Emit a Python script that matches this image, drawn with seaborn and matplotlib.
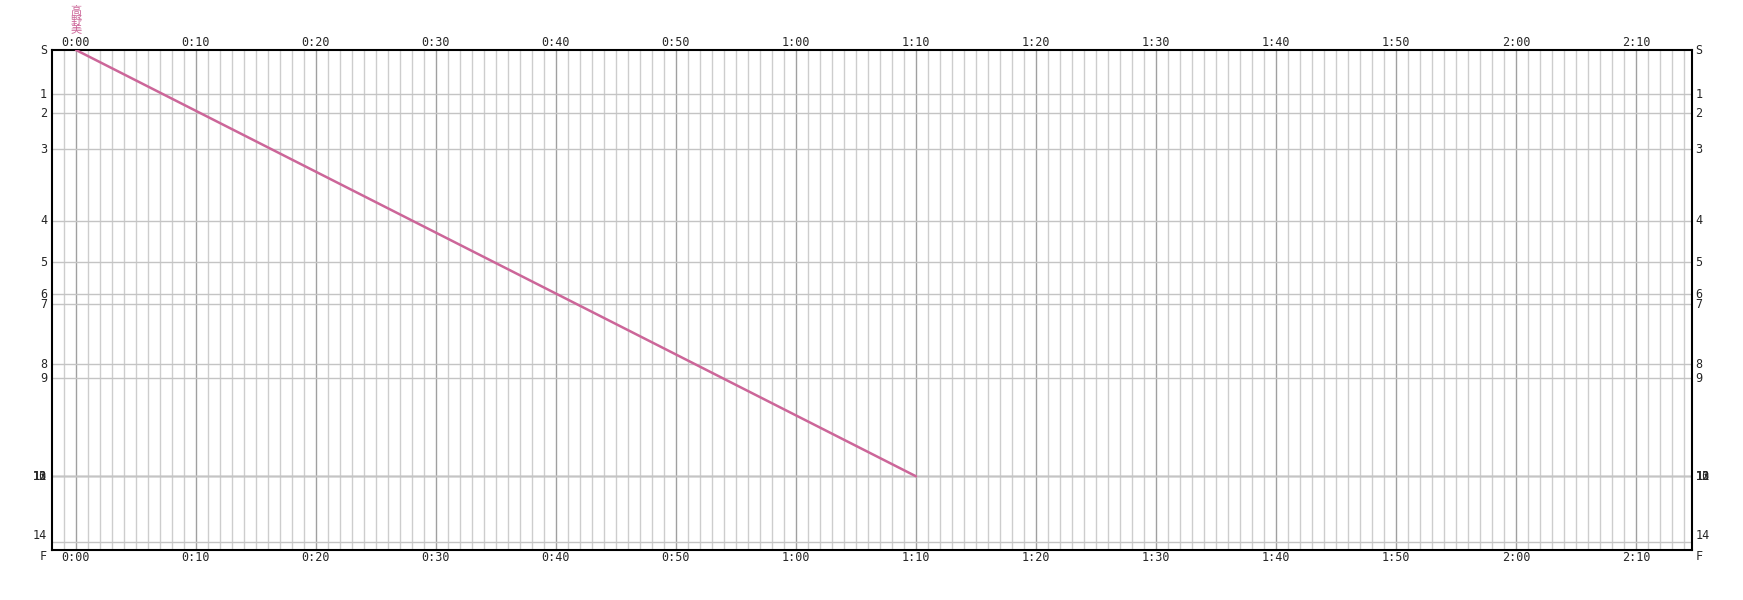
import numpy as np
import pandas as pd
import seaborn as sns
from matplotlib import pyplot as plt

# stations (top to bottom) and their distance down the chart
stations = ["S", "1", "2", "3", "4", "5", "6", "7", "8", "9", "10", "11", "12", "13", "14", "F"]
distance = [0, 4.43, 6.33, 9.93, 17.1, 21.23, 24.43, 25.4, 31.43, 32.83, 42.63, 42.63, 42.63, 42.63, 49.23, 50.0]

# one train: departs S at 0:00, reaches station 10 at 1:10
train_name = "高野美"
train_stations = ["S", "10"]
train_minutes = [0, 70]

major_ticks = list(range(0, 140, 10))
tick_labels = ["%d:%02d" % (m // 60, m % 60) for m in major_ticks]

dist_of = dict(zip(stations, distance))
df = pd.DataFrame({"minute": train_minutes,
                   "dist": [dist_of[s] for s in train_stations]})

sns.set_style("white")
plt.rcParams['font.family'] = ['Noto Sans CJK JP', 'DejaVu Sans']

fig = plt.figure(figsize=(17.43, 6), dpi=100)
ax = fig.add_axes([52 / 1743, 50 / 600, (1692 - 52) / 1743, 500 / 600])

xmin, xmax = -2, 134.67
# minor grid every minute, major every 10 minutes
for m in range(-1, 135):
    if m % 10 == 0:
        ax.axvline(m, color="#a0a0a0", lw=1, zorder=1)
    else:
        ax.axvline(m, color="#cdcdcd", lw=1, zorder=1)
for d in distance[1:-1]:
    ax.axhline(d, color="#c4c4c4", lw=1, zorder=1)

sns.lineplot(data=df, x="minute", y="dist", color="#cc6699", lw=1.8, ax=ax, zorder=3)

ax.set_xlim(xmin, xmax)
ax.set_ylim(50, 0)
ax.set_xlabel("")
ax.set_ylabel("")

for sp in ax.spines.values():
    sp.set_color("black")
    sp.set_linewidth(1.5)

ax.set_xticks(major_ticks)
ax.set_xticklabels(tick_labels)
ax.tick_params(axis="x", length=0, labeltop=True, labelbottom=True, pad=1,
               labelsize=8.5)
for lab in ax.get_xticklabels():
    lab.set_fontfamily("DejaVu Sans Mono")

ax.set_yticks([])
for s, d in zip(stations, distance):
    va = "center"
    if s == "14":
        va = "bottom"
    if s == "F":
        va = "top"
    ax.text(-0.003, d, s, transform=ax.get_yaxis_transform(), ha="right",
            va=va, fontsize=8.5, family="DejaVu Sans Mono")
    ax.text(1.002, d, s, transform=ax.get_yaxis_transform(), ha="left",
            va=va, fontsize=8.5, family="DejaVu Sans Mono")

# vertical train name above its first departure
ax.text(train_minutes[0], 1.03, "\n".join(train_name),
        transform=ax.get_xaxis_transform(), ha="center", va="bottom",
        fontsize=8, color="#cc6699", linespacing=0.9)

fig.savefig("out.png", dpi=100)
